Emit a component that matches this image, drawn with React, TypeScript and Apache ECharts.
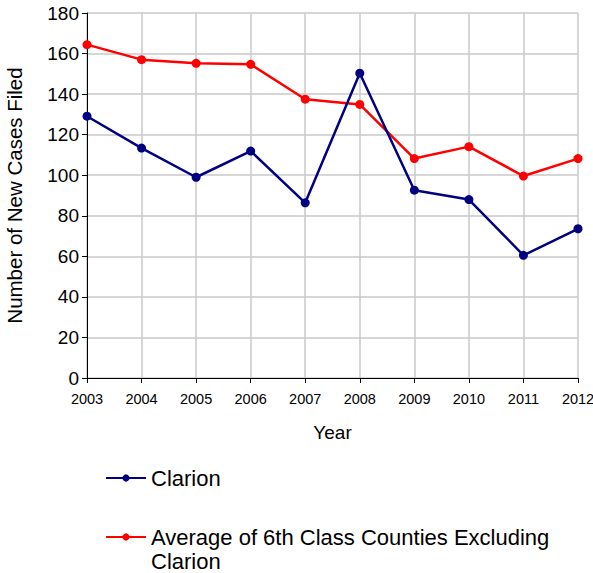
import React, { useEffect, useRef } from "react";
import * as echarts from "echarts";

const years = ["2003", "2004", "2005", "2006", "2007", "2008", "2009", "2010", "2011", "2012"];
const clarion = [129.1, 113.4, 99.0, 111.9, 86.4, 150.3, 92.6, 88.0, 60.5, 73.6];
const average = [164.4, 157.0, 155.2, 154.7, 137.5, 134.9, 108.2, 114.1, 99.6, 108.2];
const seriesNames = ["Clarion", "Average of 6th Class Counties Excluding Clarion"];
const legendLabels = ["Clarion", "\nAverage of 6th Class Counties Excluding\nClarion"];
const FONT = "Arial, 'Liberation Sans', Helvetica, sans-serif";

export default function App() {
  const ref = useRef<HTMLDivElement>(null);
  useEffect(() => {
    if (!ref.current) return;
    const chart = echarts.init(ref.current, undefined, { renderer: "svg" });
    const legendBase = {
      orient: "vertical",
      left: 105,
      padding: 0,
      itemWidth: 40,
      itemHeight: 9,
      itemGap: 5,
      textStyle: { fontSize: 22, lineHeight: 24, color: "#000", fontFamily: FONT },
      selectedMode: false,
    };
    chart.setOption({
      animation: false,
      backgroundColor: "#ffffff",
      textStyle: { fontFamily: FONT },
      grid: { left: 87, right: 15, top: 13, bottom: 195, containLabel: false, outerBoundsMode: "none" },
      legend: [
        {
          ...legendBase,
          data: [seriesNames[0]],
          top: 466,
          formatter: () => legendLabels[0],
        },
        {
          ...legendBase,
          data: [seriesNames[1]],
          top: 501,
          formatter: () => legendLabels[1],
        },
      ],
      xAxis: {
        type: "category",
        data: years,
        boundaryGap: false,
        name: "Year",
        nameLocation: "middle",
        nameGap: 45,
        nameTextStyle: { fontSize: 19, color: "#000", fontFamily: FONT },
        axisLine: { lineStyle: { color: "#000", width: 1 } },
        axisTick: { show: true, length: 5, lineStyle: { color: "#000" } },
        axisLabel: { fontSize: 14.5, color: "#000", margin: 13, fontFamily: FONT },
        splitLine: { show: true, lineStyle: { color: "#c8c8c8", width: 1.5 } },
      },
      yAxis: {
        type: "value",
        min: 0,
        max: 180,
        interval: 20,
        name: "Number of New Cases Filed",
        nameLocation: "middle",
        nameGap: 62,
        nameTextStyle: { fontSize: 20.5, color: "#000", fontFamily: FONT },
        axisLine: { show: true, lineStyle: { color: "#000", width: 1 } },
        axisTick: { show: true, length: 5, lineStyle: { color: "#000" } },
        axisLabel: { fontSize: 19, color: "#000", margin: 8, fontFamily: FONT },
        splitLine: { show: true, lineStyle: { color: "#c8c8c8", width: 1.5 } },
      },
      series: [
        {
          name: seriesNames[0],
          type: "line",
          data: clarion,
          symbol: "circle",
          symbolSize: 9,
          itemStyle: { color: "#000080" },
          lineStyle: { color: "#000080", width: 2.5 },
          z: 3,
        },
        {
          name: seriesNames[1],
          type: "line",
          data: average,
          symbol: "circle",
          symbolSize: 9,
          itemStyle: { color: "#ff0000" },
          lineStyle: { color: "#ff0000", width: 2.5 },
          z: 2,
        },
      ],
    });
    return () => chart.dispose();
  }, []);
  return <div ref={ref} style={{ width: 593, height: 573, position: "absolute", left: 0, top: 0 }} />;
}
